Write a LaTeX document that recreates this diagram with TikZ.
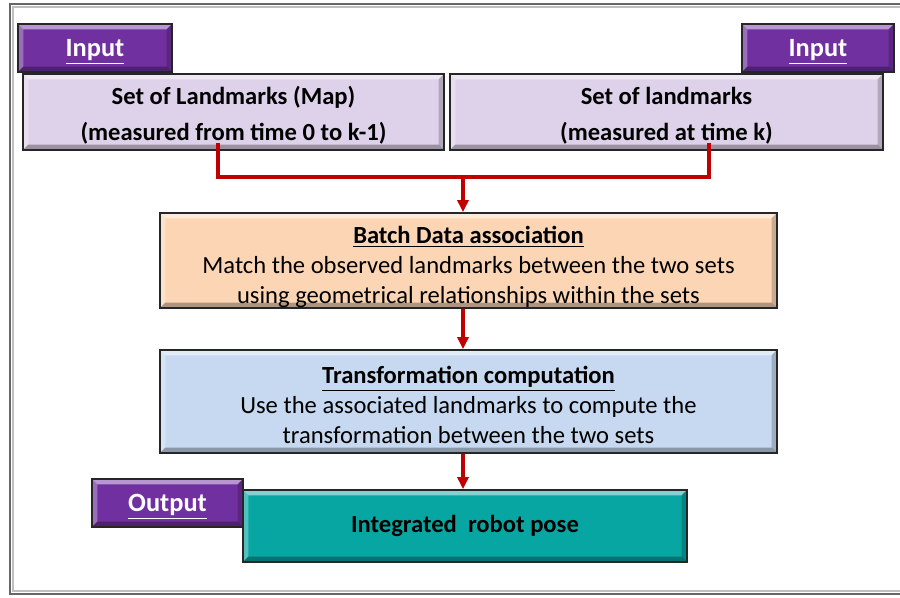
\documentclass[tikz,border=0pt]{standalone}
\usepackage{fontspec}
\setmainfont{Carlito}
\usetikzlibrary{arrows.meta,positioning,calc}
\definecolor{plum}{RGB}{112,48,160}
\definecolor{lilac}{RGB}{222,210,234}
\definecolor{peach}{RGB}{252,214,180}
\definecolor{sky}{RGB}{198,217,240}
\definecolor{lagoon}{RGB}{8,166,162}
\definecolor{wine}{RGB}{192,0,0}
\tikzset{
  >={Triangle[length=2.4mm,width=2.2mm]},
  bevel/.style={path picture={
    \coordinate (nw) at (path picture bounding box.north west);
    \coordinate (se) at (path picture bounding box.south east);
    \fill[white,opacity=.5] (nw) -- (nw-|se) -- ([shift={(-3pt,-3pt)}]nw-|se) -- ([shift={(3pt,-3pt)}]nw) -- cycle;
    \fill[white,opacity=.3] (nw) -- (nw|-se) -- ([shift={(3pt,3pt)}]nw|-se) -- ([shift={(3pt,-3pt)}]nw) -- cycle;
    \fill[black,opacity=.3] (se) -- (nw|-se) -- ([shift={(3pt,3pt)}]nw|-se) -- ([shift={(-3pt,3pt)}]se) -- cycle;
    \fill[black,opacity=.2] (se) -- (nw-|se) -- ([shift={(-3pt,-3pt)}]nw-|se) -- ([shift={(-3pt,3pt)}]se) -- cycle;
  }},
  box/.style={draw=black!85,line width=1pt,fill=#1,bevel,inner sep=0pt,
    align=center,font=\fontsize{14}{17}\selectfont},
  box/.default=lilac,
  tag/.style={draw=black!85,line width=1pt,fill=plum,bevel,text=white,inner sep=0pt,
    text height=9.5pt,text depth=0pt,
    minimum width=#1,minimum height=0.96cm,font=\fontsize{15}{17}\selectfont\bfseries},
  tag/.default=3.06cm,
  link/.style={wine,line width=2pt},
  flow/.style={->,wine,line width=2pt},
}

\begin{document}
\begin{tikzpicture}
  \useasboundingbox (0,0) rectangle (18,-11.96);
  % frame
  \draw[black!60,line width=1.6pt] (0.2,-0.08) rectangle (18.4,-11.88);
  \draw[black!25,line width=1.2pt] (0.26,-0.14) rectangle (18.4,-11.82);
  % inputs
  \node[box,minimum width=8.42cm,minimum height=1.52cm,font=\fontsize{14}{20}\selectfont] (mapset) at (4.67,-2.24)
    {\rule{0pt}{14pt}\textbf{Set of Landmarks (Map)}\\\textbf{(measured from time 0 to k-1)}};
  \node[box,minimum width=8.66cm,minimum height=1.52cm,font=\fontsize{14}{20}\selectfont] (newset) at (13.33,-2.24)
    {\rule{0pt}{14pt}\textbf{Set of landmarks}\\\textbf{(measured at time k)}};
  \node[tag=3.08cm] (inleft) at (1.9,-0.96) {\underline{Input}};
  \node[tag=3.04cm] (inright) at (16.36,-0.96) {\underline{Input}};
  % processing
  \node[box=peach,minimum width=12.34cm,minimum height=1.9cm] (assoc) at (9.37,-5.21)
    {\rule{0pt}{17pt}\underline{\textbf{Batch Data association}}\\Match the observed landmarks between the two sets\\using geometrical relationships within the sets};
  \node[box=sky,minimum width=12.34cm,minimum height=2.06cm] (transf) at (9.37,-8.03)
    {\rule{0pt}{14pt}\underline{\textbf{Transformation computation}}\\Use the associated landmarks to compute the\\transformation between the two sets};
  % output
  \node[box=lagoon,minimum width=8.88cm,minimum height=1.44cm] (pose) at (9.3,-10.52)
    {\textbf{Integrated\ \ robot pose}};
  \node[tag=3.02cm] (outtag) at (3.35,-10.06) {\underline{Output}};
  % connectors
  \coordinate (mapfoot) at (4.36,-2.86);
  \coordinate (newfoot) at (14.18,-2.86);
  \coordinate (join) at (9.26,-3.54);
  \draw[link] (mapfoot) |- (join) -| (newfoot);
  \draw[flow] (join) -- (join |- assoc.north);
  \draw[flow] (join |- assoc.south) -- (join |- transf.north);
  \draw[flow] (join |- transf.south) -- (join |- pose.north);
\end{tikzpicture}
\end{document}
